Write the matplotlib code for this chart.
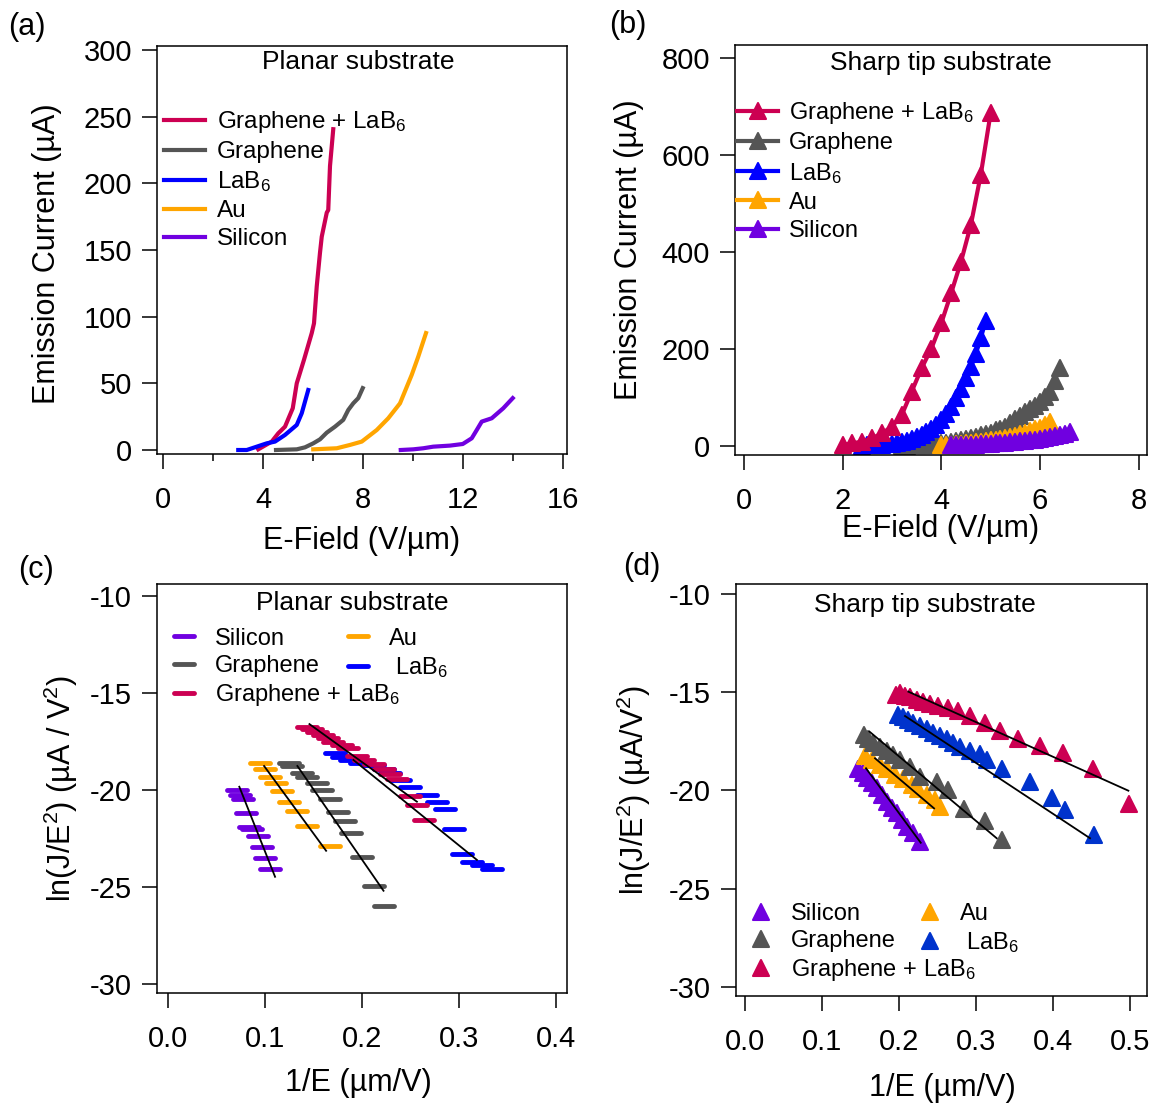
import matplotlib.pyplot as plt
from matplotlib.markers import MarkerStyle

plt.rcParams['font.family'] = ['Liberation Sans', 'DejaVu Sans']
plt.rcParams['mathtext.fontset'] = 'custom'
plt.rcParams['mathtext.rm'] = 'Liberation Sans'
plt.rcParams['mathtext.it'] = 'Liberation Sans:italic'
plt.rcParams['mathtext.default'] = 'regular'
plt.rcParams['axes.unicode_minus'] = False

# colours
c_glab = '#CC0052'
c_gr = '#555555'
c_lab = '#0000FF'
c_lab_d = '#0033CC'
c_au = '#FFA500'
c_si = '#7000E0'

# ---- (a) planar substrate, I-E curves
a_glab_x = [3.81, 4.35, 4.61, 4.88, 5.19, 5.35, 5.64, 5.95, 6.04, 6.15, 6.28, 6.35, 6.55, 6.61, 6.68, 6.81]
a_glab_y = [0.5, 6.3, 12.5, 17.5, 31.3, 50, 67.7, 87.7, 95, 122.8, 148, 160, 178, 180, 213, 240.6]
a_gr_x = [4.52, 5.35, 5.68, 6.01, 6.28, 6.55, 6.88, 7.21, 7.41, 7.61, 7.81, 7.99]
a_gr_y = [0, 0.5, 2, 5, 8, 13, 17.5, 22.6, 30, 35, 38.9, 46.4]
a_lab_x = [3.01, 3.35, 3.75, 4.15, 4.48, 4.88, 5.35, 5.55, 5.81]
a_lab_y = [0, 0, 2.5, 5, 6.3, 11.3, 18.8, 27.6, 45]
a_au_x = [6.01, 6.95, 7.48, 7.95, 8.55, 9.01, 9.48, 9.95, 10.21, 10.52]
a_au_y = [0.5, 1.3, 3.8, 6.3, 15, 23.8, 35, 56.4, 70, 87.7]
a_si_x = [9.51, 10.01, 10.41, 10.81, 11.48, 11.99, 12.35, 12.55, 12.75, 13.15, 13.61, 13.99]
a_si_y = [0, 0.5, 1.3, 2.5, 3.3, 4.5, 8.8, 15, 21.3, 23.8, 31.3, 38.9]

# ---- (b) sharp tip substrate, I-E curves
b_glab_x = [2.0, 2.2, 2.4, 2.6, 2.8, 3.0, 3.2, 3.4, 3.6, 3.8, 4.0, 4.2, 4.4, 4.6, 4.8, 5.0]
b_glab_y = [2, 5.6, 9, 16, 26, 40, 64, 112, 160, 201, 253, 315, 380, 456, 559, 686]
b_lab_x = [2.4, 2.5, 2.6, 2.7, 2.8, 2.9, 3.0, 3.1, 3.2, 3.3, 3.4, 3.5, 3.6,
           3.7, 3.8, 3.9, 4.0, 4.1, 4.2, 4.3, 4.4, 4.5, 4.6, 4.7, 4.8, 4.9]
b_lab_y = [0.5, 1, 1.5, 2, 3, 4, 5, 6.5, 8.5, 11, 14, 18, 22,
           28, 35, 43, 53, 66, 80, 98, 118, 140, 162, 190, 222, 258]
b_gr_x = [3.2, 3.3, 3.4, 3.5, 3.6, 3.7, 3.8, 3.9, 4.0, 4.1, 4.2, 4.3, 4.4, 4.5, 4.6, 4.7, 4.8,
          4.9, 5.0, 5.1, 5.2, 5.3, 5.4, 5.5, 5.6, 5.7, 5.8, 5.9, 6.0, 6.1, 6.2, 6.3, 6.4]
b_gr_y = [0, 0.5, 1, 1.5, 2, 3, 3.5, 4.5, 5.5, 7, 8, 10, 12, 15, 17, 19, 22,
          24, 27, 32, 36, 40, 48, 55, 62, 70, 76, 82, 90, 100, 112, 135, 160]
b_au_x = [4.0, 4.1, 4.2, 4.3, 4.4, 4.5, 4.6, 4.7, 4.8, 4.9, 5.0, 5.1,
          5.2, 5.3, 5.4, 5.5, 5.6, 5.7, 5.8, 5.9, 6.0, 6.1, 6.2]
b_au_y = [2, 2.5, 3, 4, 5, 6, 7, 8, 9, 10, 12, 13,
          15, 17, 19, 21, 24, 27, 30, 34, 38, 44, 50]
b_si_x = [4.2, 4.3, 4.4, 4.5, 4.6, 4.7, 4.8, 4.9, 5.0, 5.1, 5.2, 5.3, 5.4,
          5.5, 5.6, 5.7, 5.8, 5.9, 6.0, 6.1, 6.2, 6.3, 6.4, 6.5, 6.6]
b_si_y = [1, 1.2, 1.5, 2, 2.5, 3, 3.5, 4, 5, 5.5, 6, 7, 8,
          9, 10, 11, 12, 13, 15, 16, 18, 20, 22, 25, 28]

# ---- (c) planar substrate, F-N plots
c_si_x = [0.0708, 0.0742, 0.077, 0.0804, 0.0838, 0.0862, 0.0924, 0.0965, 0.1, 0.105]
c_si_y = [-20.0, -20.26, -20.46, -21.2, -21.9, -22.03, -22.35, -22.96, -23.49, -24.09]
c_au_x = [0.0948, 0.1, 0.1052, 0.111, 0.1172, 0.125, 0.1333, 0.143, 0.167]
c_au_y = [-18.59, -18.92, -19.31, -19.62, -20.03, -20.63, -21.07, -21.86, -22.87]
c_gr_x = [0.125, 0.1275, 0.1378, 0.143, 0.1533, 0.1584, 0.167, 0.1756, 0.1825, 0.1887, 0.1997, 0.2127, 0.222]
c_gr_y = [-18.59, -18.76, -19.14, -19.35, -19.62, -20.0, -20.48, -21.12, -21.58, -22.2, -23.47, -24.95, -25.98]
c_glab_x = [0.143, 0.148, 0.1533, 0.1601, 0.1653, 0.1704, 0.179, 0.1859, 0.1945,
            0.2014, 0.2117, 0.222, 0.2289, 0.2357, 0.2495, 0.2564, 0.2632]
c_glab_y = [-16.74, -16.86, -17.0, -17.16, -17.34, -17.51, -17.68, -17.85, -18.25,
            -18.45, -18.66, -18.93, -19.19, -19.43, -20.31, -20.77, -21.55]
c_lab_x = [0.1722, 0.179, 0.1876, 0.1979, 0.2117, 0.222, 0.2289, 0.2392, 0.2495,
           0.2667, 0.277, 0.2856, 0.2942, 0.3027, 0.3129, 0.3232, 0.3335]
c_lab_y = [-18.11, -18.28, -18.45, -18.59, -18.71, -18.93, -19.14, -19.48, -19.86,
           -20.26, -20.6, -21.0, -22.03, -23.3, -23.7, -23.87, -24.07]
# linear fits (end points)
c_si_fit = ([0.0735, 0.1103], [-19.83, -24.47])
c_au_fit = ([0.099, 0.1629], [-18.76, -23.13])
c_gr_fit = ([0.1333, 0.222], [-18.76, -25.19])
c_glab_fit = ([0.1457, 0.2564], [-16.6, -20.6])
c_lab_fit = ([0.191, 0.3182], [-18.45, -23.6])

# ---- (d) sharp tip substrate, F-N plots
d_glab_x = [0.196, 0.2013, 0.2078, 0.2143, 0.223, 0.2316, 0.2403, 0.251, 0.264,
            0.277, 0.2922, 0.3117, 0.3312, 0.355, 0.3831, 0.4134, 0.4524, 0.4991]
d_glab_y = [-15.14, -15.05, -15.19, -15.26, -15.39, -15.48, -15.6, -15.7, -15.82,
            -15.94, -16.21, -16.55, -16.96, -17.39, -17.74, -18.11, -18.91, -20.69]
d_lab_x = [0.1991, 0.2056, 0.2121, 0.2186, 0.2273, 0.236, 0.2446, 0.2532, 0.2619, 0.2706,
           0.2792, 0.2922, 0.3052, 0.3139, 0.3333, 0.3701, 0.3983, 0.4156, 0.4532]
d_lab_y = [-16.16, -16.24, -16.41, -16.55, -16.72, -16.89, -17.06, -17.23, -17.39, -17.6,
           -17.77, -17.97, -18.14, -18.45, -18.92, -19.55, -20.4, -20.99, -22.26]
d_gr_x = [0.1545, 0.1602, 0.1667, 0.1753, 0.184, 0.1926, 0.2013, 0.2143, 0.2273,
          0.2489, 0.2641, 0.2844, 0.3117, 0.3333]
d_gr_y = [-17.18, -17.39, -17.6, -17.77, -17.97, -18.19, -18.45, -18.79, -19.3,
          -19.55, -19.97, -20.96, -21.54, -22.52]
d_au_x = [0.1558, 0.1645, 0.1753, 0.184, 0.1948, 0.2056, 0.2165, 0.2251, 0.236, 0.2468, 0.2532]
d_au_y = [-18.24, -18.45, -18.7, -18.92, -19.21, -19.43, -19.72, -19.94, -20.23, -20.48, -20.82]
d_si_x = [0.1472, 0.1537, 0.158, 0.1645, 0.171, 0.1775, 0.184, 0.1905, 0.197,
          0.2035, 0.21, 0.2186, 0.2273]
d_si_y = [-18.92, -19.12, -19.38, -19.63, -19.89, -20.23, -20.57, -20.91, -21.16,
          -21.5, -21.84, -22.18, -22.6]
d_glab_fit = ([0.2121, 0.4978], [-14.97, -20.01])
d_lab_fit = ([0.2078, 0.448], [-16.21, -22.43])
d_gr_fit = ([0.1615, 0.3268], [-17.0, -22.43])
d_au_fit = ([0.1688, 0.2455], [-18.36, -20.91])
d_si_fit = ([0.1571, 0.2282], [-18.87, -22.66])

lab6 = 'LaB$_6$'
glab6 = 'Graphene + LaB$_6$'

W, H = 1155, 1104
fig = plt.figure(figsize=(W / 100, H / 100), dpi=100)


def px_axes(l, t, r, b):
    return fig.add_axes([l / W, 1 - b / H, (r - l) / W, (b - t) / H])


def style(ax):
    for s in ax.spines.values():
        s.set_linewidth(1.1)
    ax.tick_params(direction='out', length=11, width=1.1, labelsize=21)
    ax.tick_params(axis='x', pad=12)
    ax.tick_params(axis='y', pad=7)
    ax.tick_params(which='minor', direction='out', length=5, width=1.1)


tri = MarkerStyle('^', joinstyle='round')
bar = MarkerStyle('_', capstyle='round')

# (a)
ax = px_axes(157, 46, 567, 454)
ax.plot(a_glab_x, a_glab_y, color=c_glab, lw=3, label=glab6)
ax.plot(a_gr_x, a_gr_y, color=c_gr, lw=3, label='Graphene')
ax.plot(a_lab_x, a_lab_y, color=c_lab, lw=3, label=lab6)
ax.plot(a_au_x, a_au_y, color=c_au, lw=3, label='Au')
ax.plot(a_si_x, a_si_y, color=c_si, lw=3, label='Silicon')
ax.set_xlim(-0.24, 16.16)
ax.set_ylim(-3, 303)
ax.set_xticks([0, 4, 8, 12, 16])
ax.set_xticks([2, 6, 10, 14], minor=True)
ax.set_yticks([0, 50, 100, 150, 200, 250, 300])
style(ax)
ax.set_xlabel('E-Field (V/µm)', fontsize=22)
ax.set_ylabel('Emission Current (µA)', fontsize=22)
ax.xaxis.set_label_coords(0.5, -0.176)
ax.yaxis.set_label_coords(-0.232, 0.49)
ax.text(0.49, 0.943, 'Planar substrate', transform=ax.transAxes, ha='center', va='baseline', fontsize=19)
ax.legend(loc='upper left', bbox_to_anchor=(0.017, 0.845), frameon=False, fontsize=17.5,
          handlelength=1.67, handletextpad=0.5, labelspacing=0.25, borderpad=0, borderaxespad=0)

# (b)
ax = px_axes(735, 45, 1147, 455)
l_gr, = ax.plot(b_gr_x, b_gr_y, color=c_gr, lw=3, marker=tri, ms=12, mew=1.5)
l_lab, = ax.plot(b_lab_x, b_lab_y, color=c_lab, lw=3, marker=tri, ms=12, mew=1.5)
l_glab, = ax.plot(b_glab_x, b_glab_y, color=c_glab, lw=3, marker=tri, ms=12, mew=1.5)
l_au, = ax.plot(b_au_x, b_au_y, color=c_au, lw=3, marker=tri, ms=12, mew=1.5)
l_si, = ax.plot(b_si_x, b_si_y, color=c_si, lw=3, marker=tri, ms=12, mew=1.5)
ax.set_xlim(-0.18, 8.17)
ax.set_ylim(-18.6, 827)
ax.set_xticks([0, 2, 4, 6, 8])
ax.set_yticks([0, 200, 400, 600, 800])
style(ax)
ax.set_xlabel('E-Field (V/µm)', fontsize=22)
ax.set_ylabel('Emission Current (µA)', fontsize=22)
ax.xaxis.set_label_coords(0.498, -0.144)
ax.yaxis.set_label_coords(-0.221, 0.5)
ax.text(0.5, 0.939, 'Sharp tip substrate', transform=ax.transAxes, ha='center', va='baseline', fontsize=19)
ax.legend([l_glab, l_gr, l_lab, l_au, l_si], [glab6, 'Graphene', lab6, 'Au', 'Silicon'],
          loc='upper left', bbox_to_anchor=(0.005, 0.865), frameon=False, fontsize=17,
          handlelength=1.75, handletextpad=0.45, labelspacing=0.26, borderpad=0, borderaxespad=0)

# (c)
ax = px_axes(157, 584, 567, 993)
dash = dict(ls='none', marker=bar, ms=15, mew=3.5)
h_si, = ax.plot(c_si_x, c_si_y, color=c_si, **dash)
h_au, = ax.plot(c_au_x, c_au_y, color=c_au, **dash)
h_gr, = ax.plot(c_gr_x, c_gr_y, color=c_gr, **dash)
h_lab, = ax.plot(c_lab_x, c_lab_y, color=c_lab, **dash)
h_glab, = ax.plot(c_glab_x, c_glab_y, color=c_glab, **dash)
for fx, fy in [c_si_fit, c_au_fit, c_gr_fit, c_glab_fit, c_lab_fit]:
    ax.plot(fx, fy, color='black', lw=1.3)
ax.set_xlim(-0.0113, 0.411)
ax.set_ylim(-30.46, -9.38)
ax.set_xticks([0.0, 0.1, 0.2, 0.3, 0.4])
ax.set_xticklabels(['0.0', '0.1', '0.2', '0.3', '0.4'])
ax.set_yticks([-30, -25, -20, -15, -10])
style(ax)
ax.set_xlabel('1/E (µm/V)', fontsize=22)
ax.set_ylabel('ln(J/E$^2$) (µA / V$^2$)', fontsize=22)
ax.xaxis.set_label_coords(0.49, -0.184)
ax.yaxis.set_label_coords(-0.188, 0.5)
ax.text(0.476, 0.936, 'Planar substrate', transform=ax.transAxes, ha='center', va='baseline', fontsize=19)
leg_kw = dict(loc='upper left', frameon=False, fontsize=17, handlelength=1.57, handletextpad=0.55,
              labelspacing=0.22, borderpad=0, borderaxespad=0)
leg1 = ax.legend([h_si, h_gr, h_glab], ['Silicon', 'Graphene', glab6], bbox_to_anchor=(0.02, 0.893), **leg_kw)
ax.add_artist(leg1)
ax.legend([h_au, h_lab], ['Au', ' ' + lab6], bbox_to_anchor=(0.444, 0.893), **leg_kw)

# (d)
ax = px_axes(736, 584, 1147, 996)
mk = dict(ls='none', marker=tri, ms=12, mew=1.5)
g_si, = ax.plot(d_si_x, d_si_y, color=c_si, **mk)
g_au, = ax.plot(d_au_x, d_au_y, color=c_au, **mk)
g_gr, = ax.plot(d_gr_x, d_gr_y, color=c_gr, **mk)
g_lab, = ax.plot(d_lab_x, d_lab_y, color=c_lab_d, **mk)
g_glab, = ax.plot(d_glab_x, d_glab_y, color=c_glab, **mk)
for fx, fy in [d_si_fit, d_au_fit, d_gr_fit, d_lab_fit, d_glab_fit]:
    ax.plot(fx, fy, color='black', lw=1.3)
ax.set_xlim(-0.0117, 0.522)
ax.set_ylim(-30.46, -9.49)
ax.set_xticks([0.0, 0.1, 0.2, 0.3, 0.4, 0.5])
ax.set_xticklabels(['0.0', '0.1', '0.2', '0.3', '0.4', '0.5'])
ax.set_yticks([-30, -25, -20, -15, -10])
style(ax)
ax.set_xlabel('1/E (µm/V)', fontsize=22)
ax.set_ylabel('ln(J/E$^2$) (µA/V$^2$)', fontsize=22)
ax.xaxis.set_label_coords(0.501, -0.187)
ax.yaxis.set_label_coords(-0.201, 0.5)
ax.text(0.46, 0.932, 'Sharp tip substrate', transform=ax.transAxes, ha='center', va='baseline', fontsize=19)
leg_kw['handletextpad'] = 0.5
leg2 = ax.legend([g_si, g_gr, g_glab], ['Silicon', 'Graphene', glab6], bbox_to_anchor=(0.015, 0.226), **leg_kw)
ax.add_artist(leg2)
ax.legend([g_au, g_lab], ['Au', ' ' + lab6], bbox_to_anchor=(0.426, 0.226), **leg_kw)

# panel letters
for lbl, x, y in [('(a)', 27, 27), ('(b)', 628, 25), ('(c)', 36, 570), ('(d)', 642, 567)]:
    fig.text(x / W, 1 - y / H, lbl, fontsize=22, ha='center', va='center')

fig.savefig('out.png', dpi=100)
